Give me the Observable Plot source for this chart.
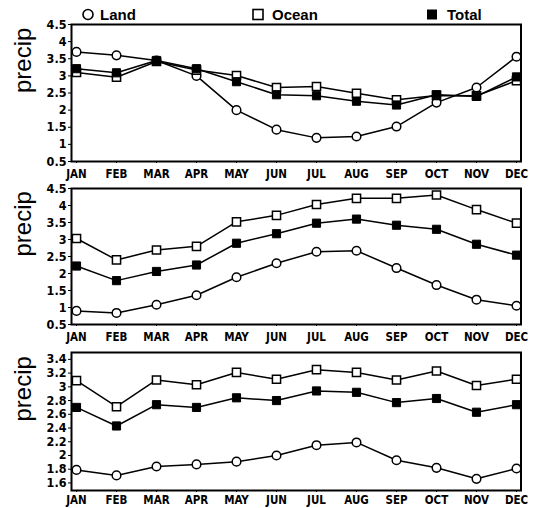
<!DOCTYPE html>
<html><head><meta charset="utf-8">
<script src="https://cdn.jsdelivr.net/npm/d3@7"></script>
<script src="https://cdn.jsdelivr.net/npm/@observablehq/plot@0.6"></script>
<style>
body{margin:0;background:#fff;}
#chart{width:545px;}
svg{display:block;}
</style></head><body><div id="chart"></div>
<script>
const months = ["JAN","FEB","MAR","APR","MAY","JUN","JUL","AUG","SEP","OCT","NOV","DEC"];
const seriesNames = ["Land","Ocean","Total"];

// Panel 1
const land1  = [3.70,3.60,3.45,3.00,2.00,1.43,1.19,1.23,1.52,2.22,2.66,3.56];
const ocean1 = [3.10,2.96,3.42,3.17,3.01,2.66,2.69,2.49,2.30,2.43,2.42,2.86];
const total1 = [3.21,3.09,3.45,3.21,2.83,2.45,2.42,2.26,2.15,2.45,2.40,2.97];
// Panel 2
const land2  = [0.90,0.84,1.08,1.36,1.89,2.30,2.64,2.67,2.16,1.66,1.23,1.05];
const ocean2 = [3.03,2.40,2.69,2.80,3.52,3.71,4.03,4.21,4.21,4.31,3.88,3.48];
const total2 = [2.22,1.79,2.06,2.25,2.89,3.17,3.48,3.60,3.42,3.30,2.86,2.54];
// Panel 3
const land3  = [1.79,1.71,1.84,1.87,1.91,2.00,2.15,2.19,1.93,1.82,1.66,1.81];
const ocean3 = [3.09,2.71,3.10,3.03,3.21,3.11,3.25,3.21,3.10,3.23,3.02,3.11];
const total3 = [2.70,2.43,2.74,2.70,2.84,2.80,2.94,2.92,2.77,2.83,2.63,2.74];

const yTicks12 = [0.5,1,1.5,2,2.5,3,3.5,4,4.5];
const yTicks3 = [1.6,1.8,2,2.2,2.4,2.6,2.8,3,3.2,3.4];

const narrow = "'Liberation Sans Narrow','Arial Narrow','DejaVu Sans Condensed',sans-serif";
const sans = "'Liberation Sans',Arial,sans-serif";

const chart = document.getElementById("chart");

// Legend (above the plots)
const leg = d3.create("svg").attr("width",545).attr("height",16).style("overflow","visible");
leg.append("circle").attr("cx",88).attr("cy",14.5).attr("r",5).attr("fill","white").attr("stroke","black").attr("stroke-width",1.6);
leg.append("text").attr("x",100).attr("y",20).text("Land");
leg.append("rect").attr("x",253).attr("y",9.5).attr("width",10).attr("height",10).attr("fill","white").attr("stroke","black").attr("stroke-width",1.6);
leg.append("text").attr("x",272).attr("y",20).text("Ocean");
leg.append("rect").attr("x",427).attr("y",9.5).attr("width",10).attr("height",10).attr("fill","black");
leg.append("text").attr("x",447).attr("y",20).text("Total");
leg.selectAll("text").attr("font-family",sans).attr("font-size",15).attr("font-weight","bold");
chart.append(leg.node());

function panel(land, ocean, total, yDomain, yTicks, height, marginTop, marginBottom, xPad) {
  const rows = [];
  const sets = {Land: land, Ocean: ocean, Total: total};
  for (const s of seriesNames) months.forEach((m, i) => rows.push({m, s, v: sets[s][i]}));
  return Plot.plot({
    width: 545, height, marginLeft: 71, marginRight: 24.5, marginTop, marginBottom,
    x: {type: "point", domain: months, padding: 0},
    y: {domain: yDomain},
    style: {fontFamily: narrow, fontWeight: "bold", color: "black", background: "transparent", overflow: "visible"},
    marks: [
      Plot.axisX({ticks: months, tickSize: 2, tickPadding: xPad, fontSize: 11.5, fontFamily: narrow, fontWeight: "bold", label: null}),
      Plot.axisY({ticks: yTicks, tickSize: 3, tickPadding: 2, fontSize: 12.5, fontFamily: narrow, fontWeight: "bold",
                  tickFormat: d => String(+d.toFixed(1)), label: null}),
      Plot.text(["precip"], {frameAnchor: "left", rotate: -90, dx: -48, fontSize: 24, fontFamily: sans, fontWeight: "normal", fill: "black"}),
      Plot.line(rows, {x: "m", y: "v", z: "s", stroke: "black", strokeWidth: 1.5}),
      Plot.dot(rows.filter(d => d.s === "Land"), {x: "m", y: "v", symbol: "circle", r: 4.3, fill: "white", stroke: "black", strokeWidth: 1.5}),
      Plot.dot(rows.filter(d => d.s === "Ocean"), {x: "m", y: "v", symbol: "square", r: 4.6, fill: "white", stroke: "black", strokeWidth: 1.5}),
      Plot.dot(rows.filter(d => d.s === "Total"), {x: "m", y: "v", symbol: "square", r: 4.6, fill: "black", stroke: "black", strokeWidth: 1}),
      Plot.frame({stroke: "black", strokeWidth: 2})
    ]
  });
}

chart.append(panel(land1, ocean1, total1, [0.5, 4.5], yTicks12, 164, 8, 19, 6));
chart.append(panel(land2, ocean2, total2, [0.5, 4.5], yTicks12, 164, 8, 20, 6));
chart.append(panel(land3, ocean3, total3, [1.49, 3.5], yTicks3, 164, 8, 18, 3));
</script>
</body></html>
